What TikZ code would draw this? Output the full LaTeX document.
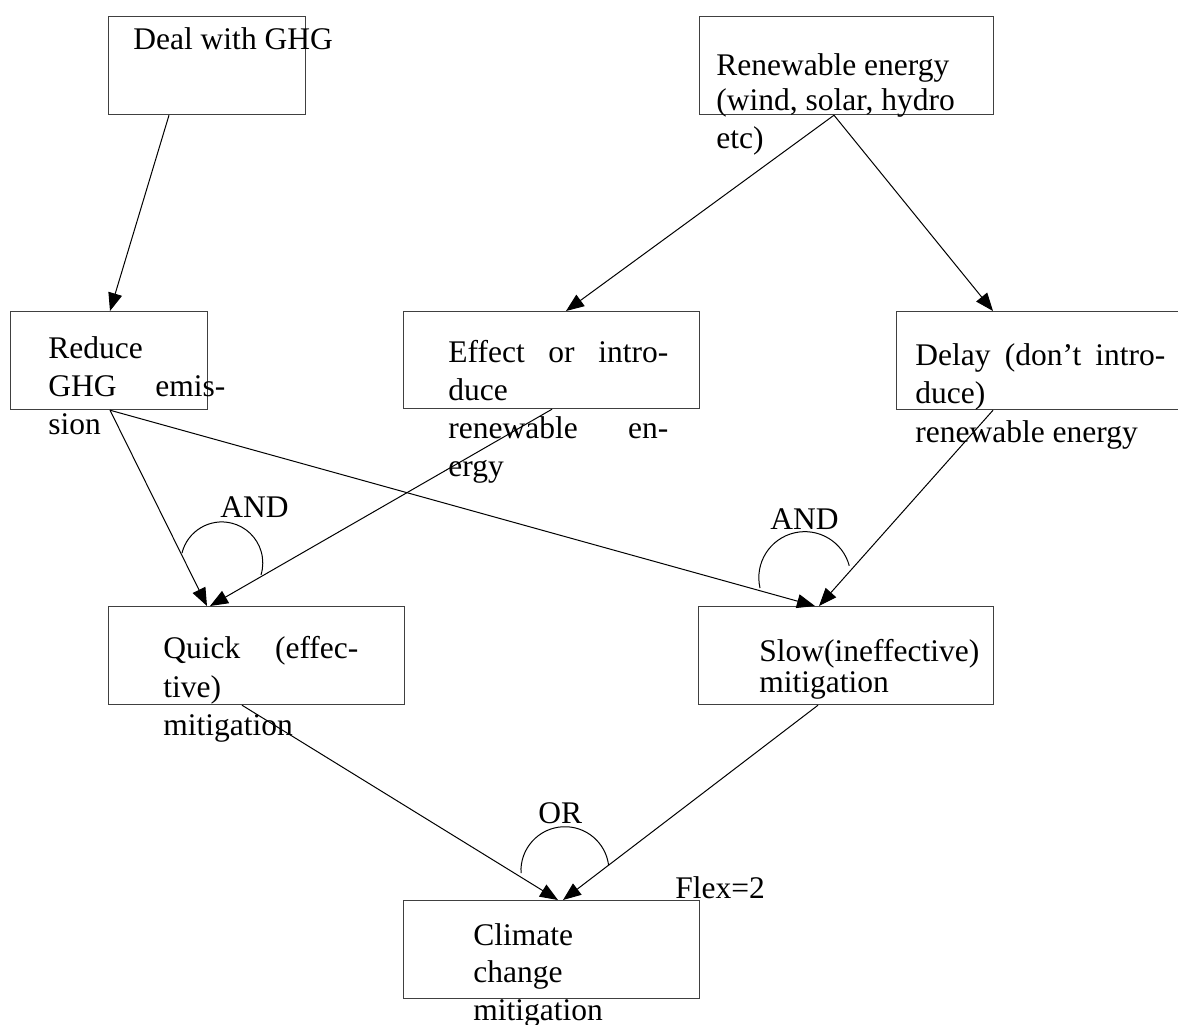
\documentclass[tikz,border=0pt]{standalone}
\usepackage{fontspec}
\setmainfont{Liberation Serif}
\usetikzlibrary{arrows.meta,calc}
\begin{document}
\begin{tikzpicture}[x=0.5pt,y=-0.5pt,
  box/.style={draw=black!75, line width=0.6pt, anchor=north west, inner sep=0pt, rectangle},
  txt/.style={anchor=base west, inner sep=0pt, font=\fontsize{15.75}{19}\selectfont},
  conn/.style={line width=0.5pt, -{Triangle[length=9pt,width=7pt]}},
  gate/.style={line width=0.5pt}]
\useasboundingbox (0,0) rectangle (1178,1024);
% boxes
\node[box, minimum width=98.5pt, minimum height=49pt] (deal) at (108,16) {};
\node[box, minimum width=147pt, minimum height=49pt] (ren) at (699,16) {};
\node[box, minimum width=98.5pt, minimum height=49pt] (reduce) at (10,311) {};
\node[box, minimum width=148pt, minimum height=48.5pt] (effect) at (403,311) {};
\node[box, minimum width=150pt, minimum height=49pt] (delay) at (896,311) {};
\node[box, minimum width=148pt, minimum height=49pt] (quick) at (108,606) {};
\node[box, minimum width=147.5pt, minimum height=49pt] (slow) at (698,606) {};
\node[box, minimum width=148pt, minimum height=49pt] (climate) at (403,900) {};
% texts
\node[txt] (t1) at (133,49) {Deal with GHG};
\node[txt] (t2a) at (716,75) {Renewable energy};
\node[txt] (t2b) at (716,110) {(wind, solar, hydro};
\node[txt] (t2c) at (716,148) {etc)};
\node[txt] (t3a) at (48,358) {Reduce};
\node[txt] (t3b) at (48,396) {\makebox[88.5pt][s]{GHG emis-}};
\node[txt] (t3c) at (48,434) {sion};
\node[txt] (t4a) at (448,362) {\makebox[110pt][s]{Effect or intro-}};
\node[txt] (t4b) at (448,400) {duce};
\node[txt] (t4c) at (448,438) {\makebox[110pt][s]{renewable en-}};
\node[txt] (t4d) at (448,476) {ergy};
\node[txt] (t5a) at (915,365) {\makebox[125pt][s]{Delay (don’t intro-}};
\node[txt] (t5b) at (915,403) {duce)};
\node[txt] (t5c) at (915,442) {renewable energy};
\node[txt] (t6a) at (163,658) {\makebox[97.5pt][s]{Quick (effec-}};
\node[txt] (t6b) at (163,697) {tive)};
\node[txt] (t6c) at (163,735) {mitigation};
\node[txt] (t7a) at (759,661) {Slow(ineffective)};
\node[txt] (t7b) at (759,692) {mitigation};
\node[txt] (t8a) at (473,945) {Climate};
\node[txt] (t8b) at (473,982) {change};
\node[txt] (t8c) at (473,1020) {mitigation};
\node[txt] (and1) at (220,517) {AND};
\node[txt] (and2) at (770,529) {AND};
\node[txt] (or1) at (538,823) {OR};
\node[txt] (flex) at (675,898) {Flex=2};
% connectors
\draw[conn] ($(deal.south west)+(61,0)$) -- ($(reduce.north west)+(100,0)$);
\draw[conn] ($(ren.south west)+(135,0)$) -- ($(effect.north west)+(163,0)$);
\draw[conn] ($(ren.south west)+(135,0)$) -- ($(delay.north west)+(97,0)$);
\draw[conn] ($(reduce.south west)+(100,0)$) -- ($(quick.north west)+(99,0)$);
\draw[conn] ($(effect.south west)+(149,0)$) -- ($(quick.north west)+(102,0)$);
\draw[conn] ($(reduce.south west)+(100,0)$) -- ($(slow.north west)+(117,0)$);
\draw[conn] ($(delay.south west)+(97,0)$) -- ($(slow.north west)+(121,0)$);
\draw[conn] ($(quick.south west)+(134,0)$) -- ($(climate.north west)+(155,0)$);
\draw[conn] ($(slow.south west)+(120,0)$) -- ($(climate.north west)+(160,0)$);
% gate arcs
\draw[gate] (182,553) arc[start angle=194, end angle=377, radius=41];
\draw[gate] (760,588) arc[start angle=167, end angle=345, radius=46];
\draw[gate] (521,873) arc[start angle=177, end angle=353, radius=44];
\end{tikzpicture}
\end{document}
